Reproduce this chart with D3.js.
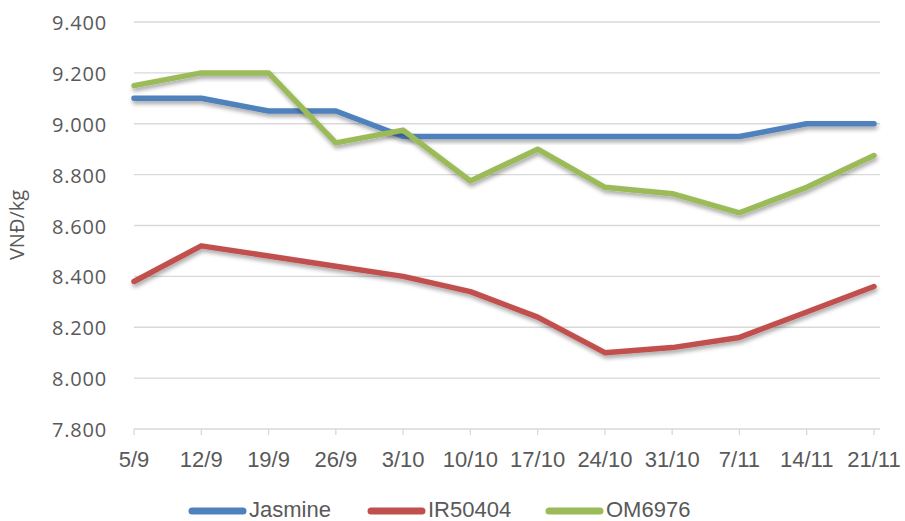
<!DOCTYPE html>
<html>

<head>
    <script src="https://d3js.org/d3.v7.min.js"></script>
    <title>Rice prices</title>
    <style>
        body { margin: 0; background: #fff; }
    </style>
</head>

<body>
    <svg></svg>
    <script>
        const weeks = ["5/9", "12/9", "19/9", "26/9", "3/10", "10/10", "17/10", "24/10", "31/10", "7/11", "14/11", "21/11"];
        const jasmine = [9100, 9100, 9050, 9050, 8950, 8950, 8950, 8950, 8950, 8950, 9000, 9000];
        const ir50404 = [8380, 8520, 8480, 8440, 8400, 8340, 8240, 8100, 8120, 8160, 8260, 8360];
        const om6976 = [9150, 9200, 9200, 8925, 8975, 8775, 8900, 8750, 8725, 8650, 8750, 8875];
        const yTicks = [7800, 8000, 8200, 8400, 8600, 8800, 9000, 9200, 9400];

        const series = [
            { name: "Jasmine", values: jasmine, color: "#4f81bd" },
            { name: "IR50404", values: ir50404, color: "#c0504d" },
            { name: "OM6976", values: om6976, color: "#9bbb59" }
        ];

        const width = 905;
        const height = 521;
        const plotLeft = 134, plotRight = 880, plotTop = 22, plotBottom = 429;

        const svg = d3.select("svg")
            .attr("width", width)
            .attr("height", height);

        const defs = svg.append("defs");
        const shadow = defs.append("filter")
            .attr("id", "shadow")
            .attr("x", "-5%").attr("y", "-20%")
            .attr("width", "110%").attr("height", "140%");
        shadow.append("feDropShadow")
            .attr("dx", 1).attr("dy", 3)
            .attr("stdDeviation", 2)
            .attr("flood-color", "#000")
            .attr("flood-opacity", 0.35);

        const x = d3.scalePoint()
            .domain(weeks)
            .range([plotLeft, 874]);
        const y = d3.scaleLinear()
            .domain([7800, 9400])
            .range([plotBottom, plotTop]);

        // gridlines
        svg.append("g")
            .selectAll("line")
            .data(yTicks.filter(d => d > 7800))
            .enter()
            .append("line")
            .attr("x1", plotLeft).attr("x2", plotRight)
            .attr("y1", d => y(d)).attr("y2", d => y(d))
            .style("stroke", "#d9d9d9")
            .style("stroke-width", 1.3);

        // y axis labels
        svg.append("g")
            .selectAll("text")
            .data(yTicks)
            .enter()
            .append("text")
            .attr("x", 107)
            .attr("y", d => y(d) + 8)
            .attr("text-anchor", "end")
            .style("font-family", "'Open Sans', sans-serif")
            .style("font-size", "20px")
            .style("letter-spacing", "0.8px")
            .style("fill", "#595959")
            .text(d => d3.format(",")(d).replace(",", "."));

        // x axis
        svg.append("line")
            .attr("x1", plotLeft).attr("x2", plotRight)
            .attr("y1", plotBottom).attr("y2", plotBottom)
            .style("stroke", "#d9d9d9")
            .style("stroke-width", 1.3);
        svg.append("g")
            .selectAll("line")
            .data(weeks)
            .enter()
            .append("line")
            .attr("x1", d => x(d)).attr("x2", d => x(d))
            .attr("y1", plotBottom).attr("y2", plotBottom + 6)
            .style("stroke", "#d9d9d9")
            .style("stroke-width", 1.3);
        svg.append("g")
            .selectAll("text")
            .data(weeks)
            .enter()
            .append("text")
            .attr("x", d => x(d))
            .attr("y", 467)
            .attr("text-anchor", "middle")
            .style("font-family", "'Liberation Sans', Arial, sans-serif")
            .style("font-size", "22px")
            .style("fill", "#595959")
            .text(d => d);

        // y axis title
        svg.append("text")
            .attr("transform", "translate(24,225) rotate(-90)")
            .attr("text-anchor", "middle")
            .style("font-family", "'Open Sans', sans-serif")
            .style("font-size", "20px")
            .style("fill", "#595959")
            .text("VNĐ/kg");

        // lines
        const line = d3.line()
            .x((d, i) => x(weeks[i]))
            .y(d => y(d));

        svg.append("g")
            .selectAll("path")
            .data(series)
            .enter()
            .append("path")
            .attr("d", d => line(d.values))
            .attr("filter", "url(#shadow)")
            .style("fill", "none")
            .style("stroke", d => d.color)
            .style("stroke-width", 5.5)
            .style("stroke-linecap", "round")
            .style("stroke-linejoin", "round");

        // legend
        const legendX = [189, 368, 546];
        const legend = svg.append("g")
            .selectAll("g")
            .data(series)
            .enter()
            .append("g")
            .attr("transform", (d, i) => `translate(${legendX[i]},511)`);
        legend.append("line")
            .attr("x1", 3).attr("x2", 54)
            .attr("y1", 0).attr("y2", 0)
            .style("stroke", d => d.color)
            .style("stroke-width", 7)
            .style("stroke-linecap", "round");
        legend.append("text")
            .attr("x", 60)
            .attr("y", 6)
            .style("font-family", "'Liberation Sans', Arial, sans-serif")
            .style("font-size", "22px")
            .style("fill", "#595959")
            .text(d => d.name);
    </script>
</body>

</html>
